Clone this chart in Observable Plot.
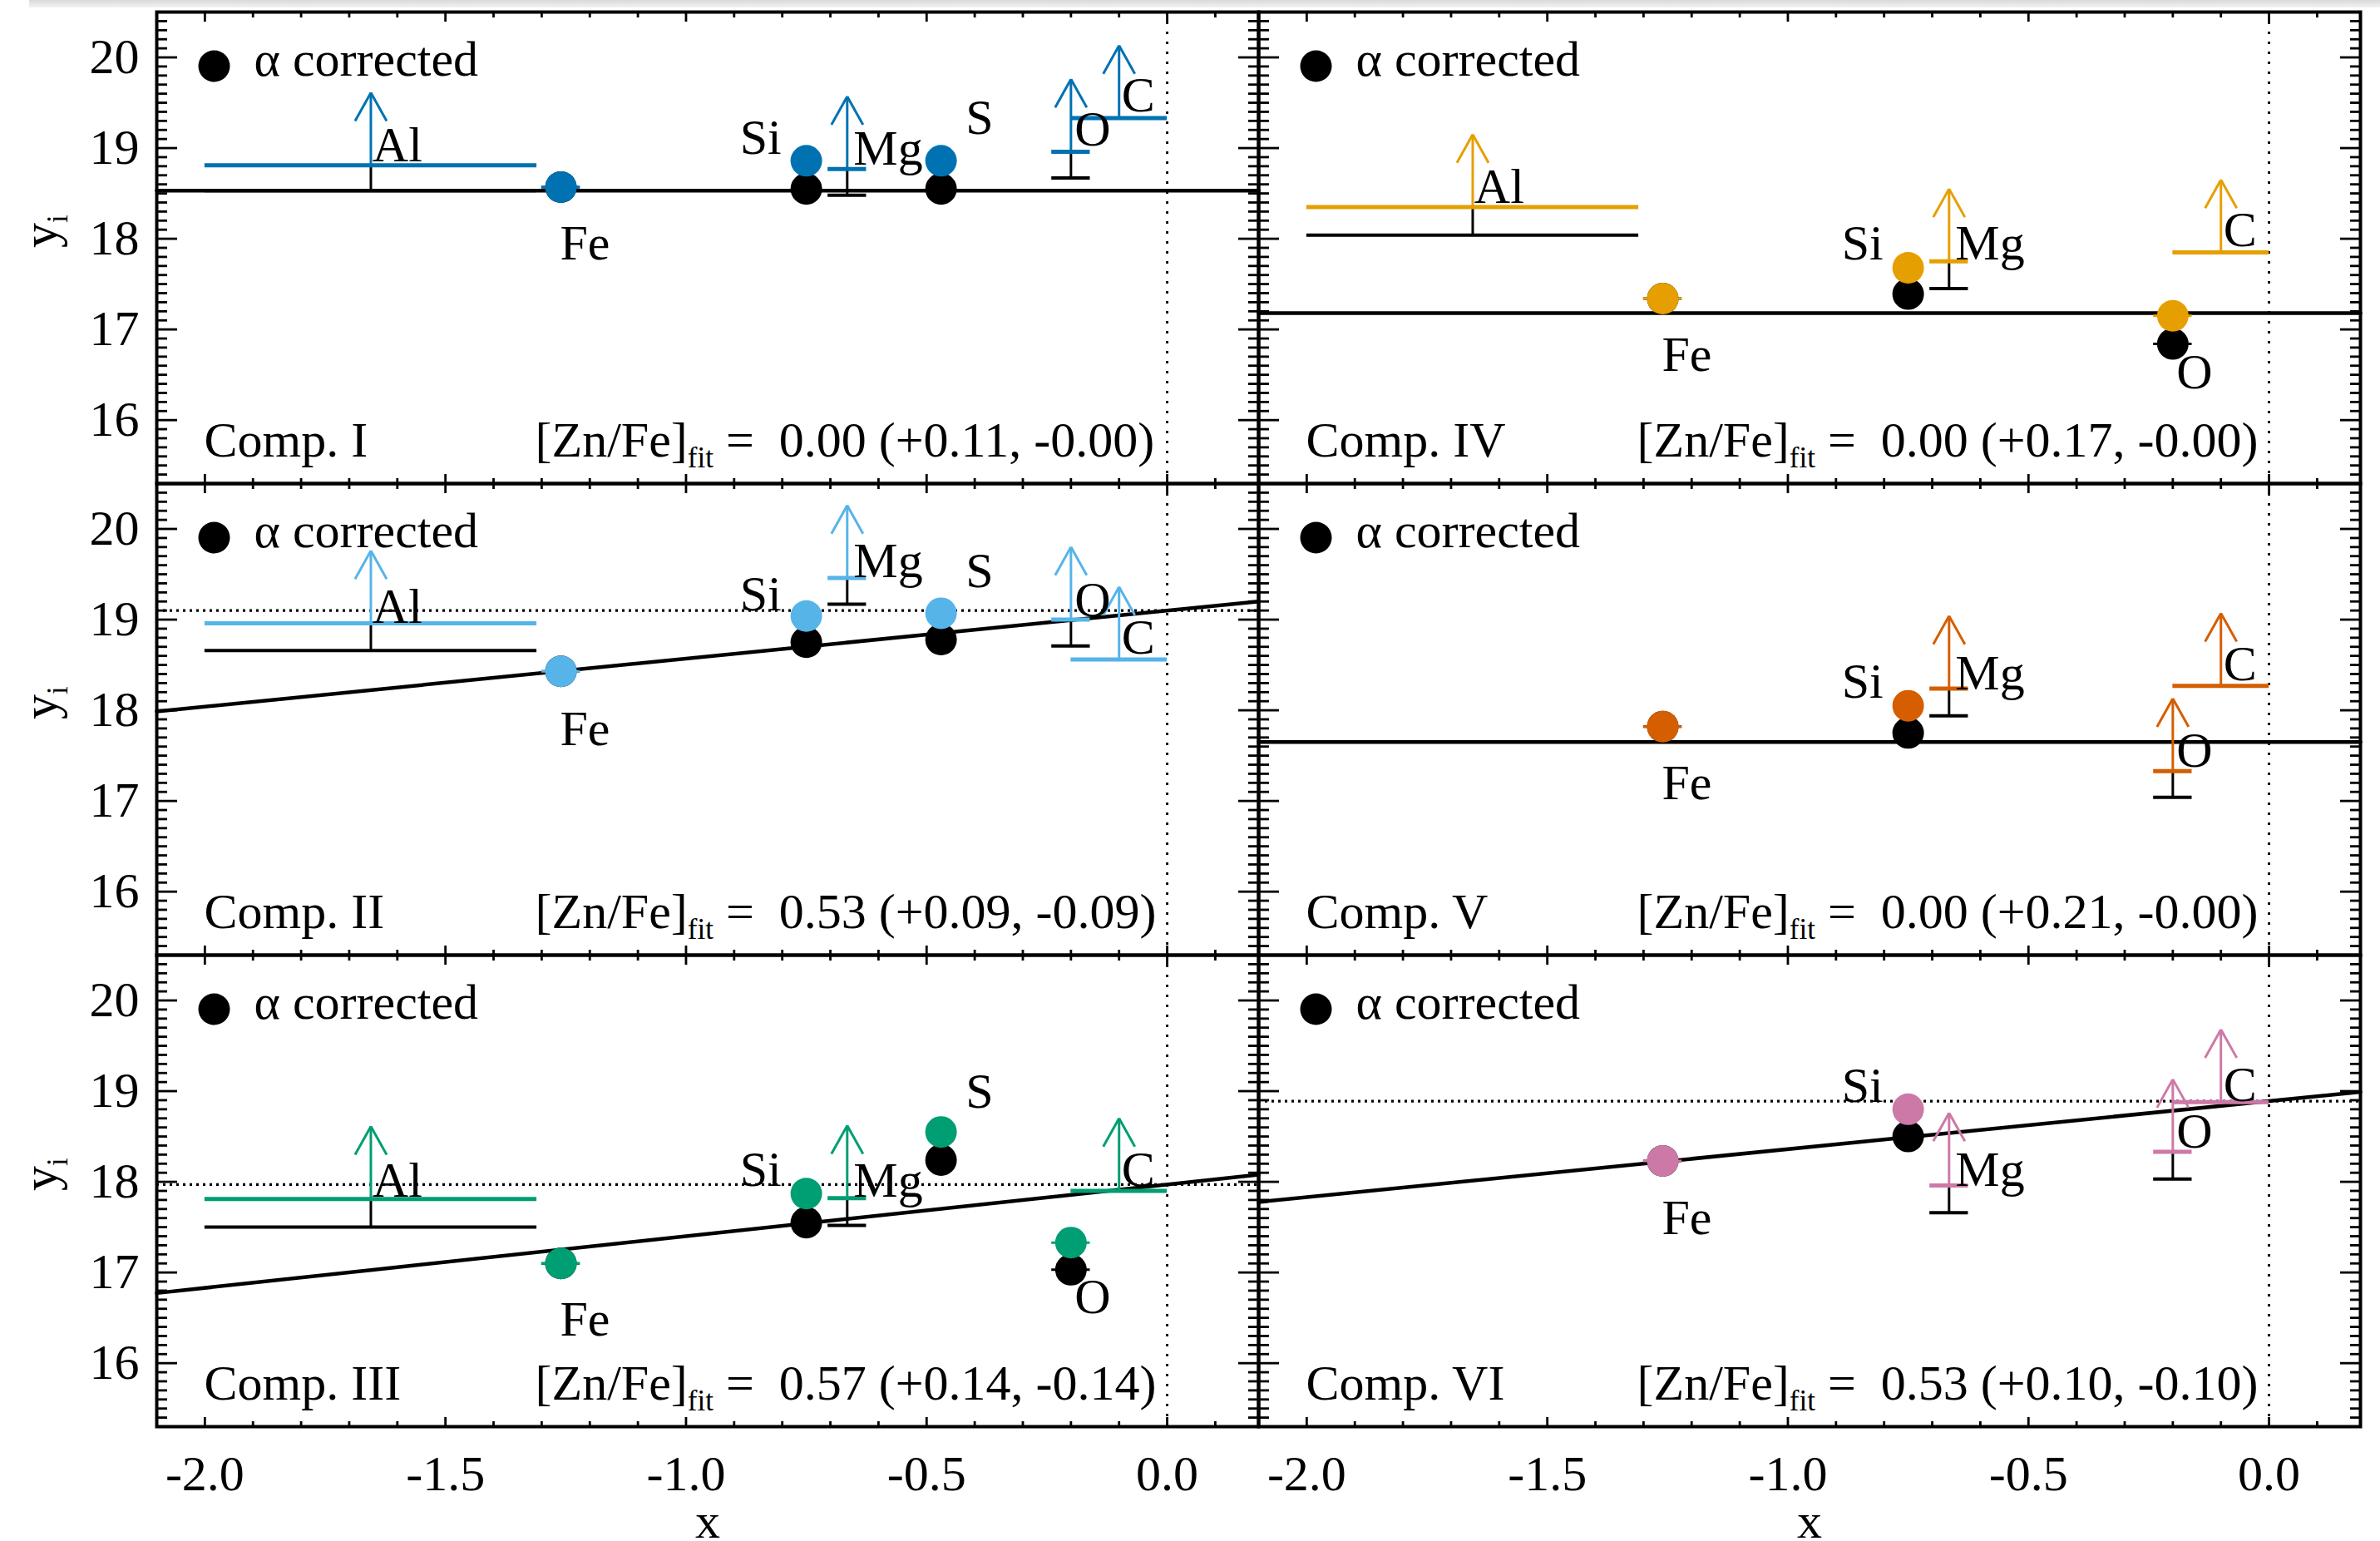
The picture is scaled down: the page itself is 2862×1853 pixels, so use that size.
<!DOCTYPE html>
<html>
<head>
<meta charset="utf-8">
<script src="https://cdn.jsdelivr.net/npm/d3@7"></script>
<script src="https://cdn.jsdelivr.net/npm/@observablehq/plot@0.6"></script>
<style>
  html, body { margin: 0; padding: 0; background: #fff; }
  #chart { position: relative; width: 2862px; height: 1853px; overflow: hidden; font-family: "Liberation Serif", "DejaVu Serif", serif; }
  #topbar { position: absolute; left: 35px; top: 0; width: 2827px; height: 9px; background: linear-gradient(#d9d9d9, #f3f3f3); }
</style>
</head>
<body>
<div id="chart"><div id="topbar"></div></div>
<script>
// ---------------- DATA ----------------
const panels = ["I", "II", "III", "IV", "V", "VI"];
const panelColors = ["#0072B2", "#56B4E9", "#009E73", "#E69F00", "#D55E00", "#CC79A7"];
const fitIntercept = [18.53, 19.10, 17.97, 17.18, 17.65, 18.89];
const fitSlope = [0, 0.53, 0.57, 0, 0, 0.53];
const znFeFit = ["0.00 (+0.11, -0.00)", "0.53 (+0.09, -0.09)", "0.57 (+0.14, -0.14)",
                 "0.00 (+0.17, -0.00)", "0.00 (+0.21, -0.00)", "0.53 (+0.10, -0.10)"];

// detections: panel, element, x, y_i, y_i (alpha corrected), x half-error
const detections = [
  ["I", "Fe", -1.26, 18.57, 18.57, 0.04], ["I", "Si", -0.75, 18.86, 18.55, 0], ["I", "S", -0.47, 18.86, 18.55, 0],
  ["II", "Fe", -1.26, 18.43, 18.43, 0.04], ["II", "Si", -0.75, 19.04, 18.75, 0], ["II", "S", -0.47, 19.07, 18.78, 0],
  ["III", "Fe", -1.26, 17.10, 17.10, 0.04], ["III", "Si", -0.75, 17.87, 17.55, 0], ["III", "S", -0.47, 18.55, 18.24, 0], ["III", "O", -0.20, 17.33, 17.03, 0.04],
  ["IV", "Fe", -1.26, 17.34, 17.34, 0.04], ["IV", "Si", -0.75, 17.68, 17.39, 0], ["IV", "O", -0.20, 17.15, 16.84, 0.04],
  ["V", "Fe", -1.26, 17.82, 17.82, 0.04], ["V", "Si", -0.75, 18.05, 17.75, 0],
  ["VI", "Fe", -1.26, 18.23, 18.23, 0.04], ["VI", "Si", -0.75, 18.80, 18.50, 0]
];

// lower limits: panel, element, x from, x to, y_i, y_i (alpha corrected, null = none)
const lowerLimits = [
  ["I", "Al", -2.0, -1.31, 18.81, 18.53], ["I", "Mg", -0.705, -0.625, 18.77, 18.48], ["I", "O", -0.24, -0.16, 18.96, 18.67], ["I", "C", -0.20, 0.0, 19.33, null],
  ["II", "Al", -2.0, -1.31, 18.96, 18.66], ["II", "Mg", -0.705, -0.625, 19.46, 19.17], ["II", "O", -0.24, -0.16, 19.00, 18.71], ["II", "C", -0.20, 0.0, 18.56, null],
  ["III", "Al", -2.0, -1.31, 17.81, 17.50], ["III", "Mg", -0.705, -0.625, 17.82, 17.52], ["III", "C", -0.20, 0.0, 17.90, null],
  ["IV", "Al", -2.0, -1.31, 18.35, 18.04], ["IV", "Mg", -0.705, -0.625, 17.75, 17.45], ["IV", "C", -0.20, 0.0, 17.85, null],
  ["V", "Mg", -0.705, -0.625, 18.24, 17.94], ["V", "O", -0.24, -0.16, 17.33, 17.04], ["V", "C", -0.20, 0.0, 18.27, null],
  ["VI", "Mg", -0.705, -0.625, 17.96, 17.66], ["VI", "O", -0.24, -0.16, 18.33, 18.03], ["VI", "C", -0.20, 0.0, 18.88, null]
];

// element name labels: panel, text, x, y
const elementLabels = [
  ["I", "Al", -1.60, 19.03], ["I", "Fe", -1.21, 17.95], ["I", "Si", -0.845, 19.11], ["I", "Mg", -0.58, 18.99], ["I", "S", -0.39, 19.33], ["I", "O", -0.155, 19.20], ["I", "C", -0.06, 19.58],
  ["II", "Al", -1.60, 19.14], ["II", "Fe", -1.21, 17.79], ["II", "Si", -0.845, 19.28], ["II", "Mg", -0.58, 19.64], ["II", "S", -0.39, 19.53], ["II", "O", -0.155, 19.21], ["II", "C", -0.06, 18.80],
  ["III", "Al", -1.60, 18.01], ["III", "Fe", -1.21, 16.48], ["III", "Si", -0.845, 18.13], ["III", "Mg", -0.58, 18.01], ["III", "S", -0.39, 18.99], ["III", "O", -0.155, 16.73], ["III", "C", -0.06, 18.13],
  ["IV", "Al", -1.60, 18.57], ["IV", "Fe", -1.21, 16.72], ["IV", "Si", -0.845, 17.95], ["IV", "Mg", -0.58, 17.95], ["IV", "O", -0.155, 16.53], ["IV", "C", -0.06, 18.09],
  ["V", "Fe", -1.21, 17.20], ["V", "Si", -0.845, 18.31], ["V", "Mg", -0.58, 18.41], ["V", "O", -0.155, 17.55], ["V", "C", -0.06, 18.51],
  ["VI", "Fe", -1.21, 17.60], ["VI", "Si", -0.845, 19.06], ["VI", "Mg", -0.58, 18.13], ["VI", "O", -0.155, 18.55], ["VI", "C", -0.06, 19.07]
];

const xMajorTicks = [-2.0, -1.5, -1.0, -0.5, 0.0];
const xMinorTicks = [-1.9, -1.8, -1.7, -1.6, -1.4, -1.3, -1.2, -1.1, -0.9, -0.8, -0.7, -0.6, -0.4, -0.3, -0.2, -0.1, 0.1];
const yMajorTicks = [16, 17, 18, 19, 20];
const yMinorTicks = d3.range(154, 205).filter(v => v % 10 !== 0).map(v => v / 10);

// ---------------- LAYOUT ----------------
const X_DOMAIN = [-2.1, 0.19], Y_DOMAIN = [15.3, 20.5];
const PW = 1325, PH = 567;
const colLeft = [188, 1513], rowTop = [14, 581, 1148];
const FONT = "'Liberation Serif', 'DejaVu Serif', serif";
const FS = 60;
const ARROW = 0.80;                                          // arrow length (y units)
const HEAD_DX = 19 / (PW / (X_DOMAIN[1] - X_DOMAIN[0]));     // arrow head half width
const HEAD_DY = 34 / (PH / (Y_DOMAIN[1] - Y_DOMAIN[0]));     // arrow head height
const NS = "http://www.w3.org/2000/svg";

function subscripts(svg) {
  svg.querySelectorAll("text").forEach(t => {
    const s = t.textContent;
    if (!s.includes("§")) return;
    const [a, sub, c] = s.split("§");
    while (t.firstChild) t.removeChild(t.firstChild);
    const t1 = document.createElementNS(NS, "tspan"); t1.textContent = a; t.appendChild(t1);
    const t2 = document.createElementNS(NS, "tspan"); t2.textContent = sub;
    t2.setAttribute("font-size", "35"); t2.setAttribute("dy", "13"); t.appendChild(t2);
    if (c) {
      const t3 = document.createElementNS(NS, "tspan"); t3.textContent = c;
      t3.setAttribute("dy", "-13"); t.appendChild(t3);
    }
  });
}

const container = document.getElementById("chart");

panels.forEach((p, i) => {
  const col = Math.floor(i / 3), row = i % 3;
  const color = panelColors[i];
  const mL = col === 0 ? 188 : 12, mR = col === 1 ? 24 : 12;
  const mT = row === 0 ? 14 : 12, mB = row === 2 ? 140 : 12;

  const det = detections.filter(d => d[0] === p).map(d => ({el: d[1], x: d[2], y: d[3], ya: d[4], xe: d[5]}));
  const detErr = det.filter(d => d.xe > 0);
  const lim = lowerLimits.filter(d => d[0] === p).map(d => ({el: d[1], x1: d[2], x2: d[3], xc: (d[2] + d[3]) / 2, y: d[4], ya: d[5], yt: d[4] + ARROW}));
  const limA = lim.filter(d => d.ya != null);
  const labs = elementLabels.filter(d => d[0] === p).map(d => ({t: d[1], x: d[2], y: d[3]}));
  const b = fitIntercept[i], m = fitSlope[i];
  const fit = X_DOMAIN.map(x => ({x, y: b + m * x}));

  const txt = {fontSize: FS, fontFamily: FONT, fill: "black"};
  const tick = {stroke: "black", strokeWidth: 2.8, fill: null, label: null};
  const marks = [
    Plot.ruleX([0], {stroke: "black", strokeWidth: 2.8, strokeDasharray: "3,9"}),
    Plot.ruleY([b], {stroke: "black", strokeWidth: 3.2, strokeDasharray: "3,5"}),
    Plot.line(fit, {x: "x", y: "y", stroke: "black", strokeWidth: 4.5}),
    // alpha-corrected lower limits (black)
    Plot.ruleY(limA, {x1: "x1", x2: "x2", y: "ya", stroke: "black", strokeWidth: 4}),
    Plot.ruleX(limA, {x: "xc", y1: "ya", y2: "y", stroke: "black", strokeWidth: 3}),
    // lower limits (colour)
    Plot.ruleY(lim, {x1: "x1", x2: "x2", y: "y", stroke: color, strokeWidth: 5}),
    Plot.link(lim, {x1: "xc", x2: "xc", y1: "y", y2: "yt", stroke: color, strokeWidth: 3}),
    Plot.link(lim, {x1: d => d.xc - HEAD_DX, y1: d => d.yt - HEAD_DY, x2: "xc", y2: "yt", stroke: color, strokeWidth: 3}),
    Plot.link(lim, {x1: d => d.xc + HEAD_DX, y1: d => d.yt - HEAD_DY, x2: "xc", y2: "yt", stroke: color, strokeWidth: 3}),
    // detections
    Plot.ruleY(detErr, {x1: d => d.x - d.xe, x2: d => d.x + d.xe, y: "ya", stroke: "black", strokeWidth: 3}),
    Plot.dot(det, {x: "x", y: "ya", r: 19, fill: "black"}),
    Plot.ruleY(detErr, {x1: d => d.x - d.xe, x2: d => d.x + d.xe, y: "y", stroke: color, strokeWidth: 3}),
    Plot.dot(det, {x: "x", y: "y", r: 19, fill: color}),
    Plot.text(labs, {x: "x", y: "y", text: "t", ...txt}),
    // legend and annotations
    Plot.dot([null], {frameAnchor: "top-left", dx: 69, dy: 65, r: 19, fill: "black"}),
    Plot.text(["α corrected"], {frameAnchor: "top-left", lineAnchor: "bottom", dx: 117, dy: 76, textAnchor: "start", ...txt}),
    Plot.text([`Comp. ${p}`], {frameAnchor: "bottom-left", lineAnchor: "bottom", dx: 57, dy: -33, textAnchor: "start", ...txt}),
    Plot.text([`[Zn/Fe]§fit§\u00a0=\u00a0\u00a0${znFeFit[i]}`], {frameAnchor: "bottom-left", lineAnchor: "bottom", dx: 455, dy: -33, textAnchor: "start", ...txt}),
    // inward ticks on all four sides
    Plot.axisX(xMinorTicks, {anchor: "bottom", tickSize: -6, ...tick}),
    Plot.axisX(xMajorTicks, {anchor: "bottom", tickSize: -11, ...tick}),
    Plot.axisX(xMinorTicks, {anchor: "top", tickSize: -6, ...tick}),
    Plot.axisX(xMajorTicks, {anchor: "top", tickSize: -11, ...tick}),
    Plot.axisY(yMinorTicks, {anchor: "left", tickSize: -13, ...tick}),
    Plot.axisY(yMajorTicks, {anchor: "left", tickSize: -25, ...tick}),
    Plot.axisY(yMinorTicks, {anchor: "right", tickSize: -13, ...tick}),
    Plot.axisY(yMajorTicks, {anchor: "right", tickSize: -25, ...tick}),
    Plot.frame({stroke: "black", strokeWidth: 4})
  ];
  if (col === 0) {
    marks.push(Plot.axisY(yMajorTicks, {anchor: "left", tickSize: 0, tickPadding: 21, fontSize: FS, fontFamily: FONT, tickFormat: d => String(d), label: null}));
    marks.push(Plot.text(["y§i§"], {frameAnchor: "left", lineAnchor: "middle", dx: -140, rotate: -90, ...txt}));
  }
  if (row === 2) {
    marks.push(Plot.axisX(xMajorTicks, {anchor: "bottom", tickSize: 0, tickPadding: 34, fontSize: FS, fontFamily: FONT, tickFormat: d => d.toFixed(1), label: null}));
    marks.push(Plot.text(["x"], {frameAnchor: "bottom", lineAnchor: "bottom", dy: 133, ...txt}));
  }

  const svg = Plot.plot({
    width: PW + mL + mR, height: PH + mT + mB,
    marginLeft: mL, marginRight: mR, marginTop: mT, marginBottom: mB,
    x: {domain: X_DOMAIN}, y: {domain: Y_DOMAIN},
    marks
  });
  Object.assign(svg.style, {
    position: "absolute", left: (colLeft[col] - mL) + "px", top: (rowTop[row] - mT) + "px",
    background: "transparent", overflow: "visible", maxWidth: "none", fontFamily: FONT, color: "black"
  });
  container.appendChild(svg);
  subscripts(svg);
});
</script>
</body>
</html>
